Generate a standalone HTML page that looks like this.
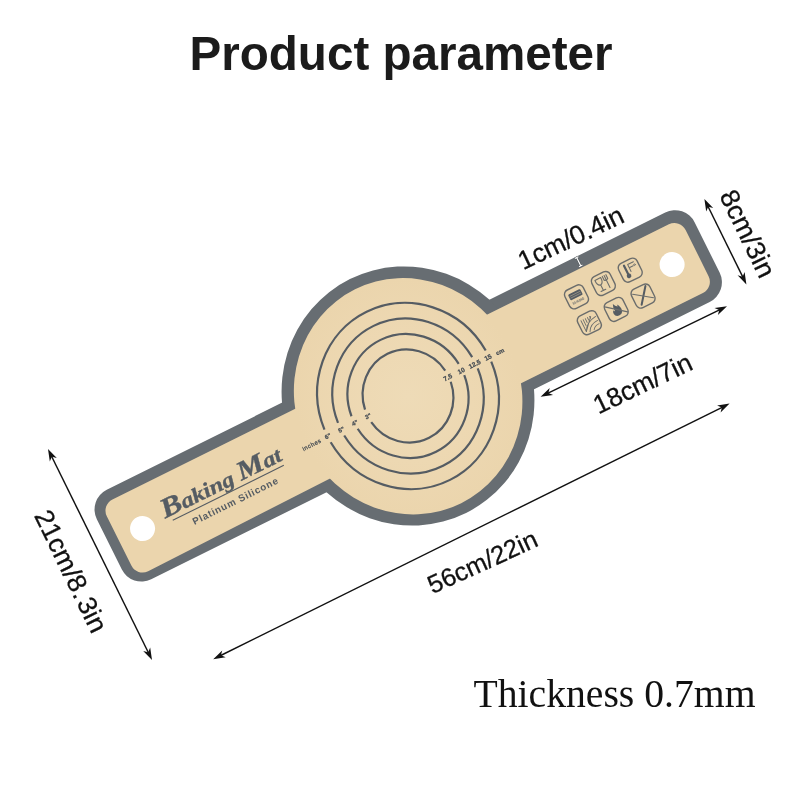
<!DOCTYPE html>
<html lang="en"><head><meta charset="utf-8"><title>Product parameter</title>
<style>
html,body{margin:0;padding:0;background:#fff;}
body{width:800px;height:800px;overflow:hidden;position:relative;font-family:"Liberation Sans",Arial,sans-serif;}
svg{position:absolute;left:0;top:0;display:block}
text{filter:grayscale(0)}
.title{font-family:"Liberation Sans",Arial,sans-serif;font-weight:700;font-size:48px;fill:#1b1b1b}
.dim{font-family:"Liberation Sans",Arial,sans-serif;fill:#111;stroke:#111;stroke-width:0.3px}
.thick{font-family:"Liberation Serif","Times New Roman",serif;font-size:40px;fill:#111}
.tiny{font-family:"Liberation Sans",Arial,sans-serif;font-weight:700;fill:#464d54;stroke:#464d54;stroke-width:0.25px}
.script{font-family:"Liberation Serif","Times New Roman",serif;font-style:italic;font-weight:700;fill:#555c63}
</style></head><body>
<svg width="800" height="800" viewBox="0 0 800 800">
<defs>
<radialGradient id="tang" cx="0.5" cy="0.5" r="0.5">
<stop offset="0" stop-color="#eedbb7"/><stop offset="0.55" stop-color="#edd8b2"/><stop offset="1" stop-color="#ebd5ad"/>
</radialGradient>
</defs>
<rect width="800" height="800" fill="#fff"/>
<text class="title" x="401" y="69.5" text-anchor="middle" textLength="423" lengthAdjust="spacingAndGlyphs">Product parameter</text>

<g transform="translate(408.0,396.0) rotate(-26.4)">
<rect x="-333.5" y="-50.0" width="667.5" height="100.0" rx="22" fill="#676d72"/>
<ellipse rx="125.38" ry="130.6" fill="#676d72"/>
<path d="M-20,-38.8 H-310.7 A12.5,12.5 0 0 0 -323.2,-26.299999999999997 V28.9 A12.5,12.5 0 0 0 -310.7,41.4 L-20,38.3 Z" fill="#ebd5ad"/>
<rect x="-20" y="-37.8" width="342.5" height="76.6" rx="12.5" fill="#ebd5ad"/>
<ellipse cx="0" cy="0.3" rx="112.98" ry="119.39999999999999" fill="url(#tang)"/>
<circle cx="295" cy="-0.3" r="12.5" fill="#fff"/>
<circle cx="-296.7" cy="0.7" r="12.5" fill="#fff"/>
<path d="M44.62,6.23 A45.02,46.9 0 0 1 -44.52,6.97 M-44.52,-6.97 A45.02,46.9 0 0 1 44.62,-6.23" fill="none" stroke="#555c63" stroke-width="2.2"/>
<path d="M59.70,6.24 A60.00,62.5 0 0 1 -59.62,6.99 M-59.62,-6.99 A60.00,62.5 0 0 1 59.70,-6.24" fill="none" stroke="#555c63" stroke-width="2.2"/>
<path d="M74.74,6.24 A74.98,78.1 0 0 1 -74.68,6.99 M-74.68,-6.99 A74.98,78.1 0 0 1 74.74,-6.24" fill="none" stroke="#555c63" stroke-width="2.2"/>
<path d="M89.85,6.25 A90.05,93.8 0 0 1 -89.80,6.99 M-89.80,-6.99 A90.05,93.8 0 0 1 89.85,-6.25" fill="none" stroke="#555c63" stroke-width="2.2"/>
<text class="tiny" font-size="6.5" x="43.8" y="3.3" text-anchor="middle">7.5</text>
<text class="tiny" font-size="6.5" x="58.8" y="3.3" text-anchor="middle">10</text>
<text class="tiny" font-size="6.5" x="73.8" y="3.3" text-anchor="middle">12.5</text>
<text class="tiny" font-size="6.5" x="88.8" y="3.3" text-anchor="middle">15</text>
<text class="tiny" font-size="6" x="102" y="3.2" text-anchor="middle">cm</text>
<text class="tiny" font-size="6" x="-44.7" y="2.6" text-anchor="middle">3"</text>
<text class="tiny" font-size="6" x="-59.7" y="2.6" text-anchor="middle">4"</text>
<text class="tiny" font-size="6" x="-74.7" y="2.6" text-anchor="middle">5"</text>
<text class="tiny" font-size="6" x="-89.7" y="2.6" text-anchor="middle">6"</text>
<text class="tiny" font-size="6" x="-108" y="3.0" text-anchor="middle" textLength="20" style="font-weight:400">inches</text>
<g transform="translate(195,-13.9)" fill="none" stroke="#6b6d6c" stroke-width="1.4" stroke-linecap="round" stroke-linejoin="round">
<rect x="-10.25" y="-10.25" width="20.5" height="20.5" rx="5"/>
<rect x="-6.8" y="-5.6" width="13.6" height="6.4" rx="1.2" fill="#555c63" stroke="none"/>
<path d="M-5.5,-3.4 H5.5 M-5.5,-1.4 H5.5" stroke="#ebd5ad" stroke-width="0.6" opacity="0.6"/>
<text x="0" y="5.6" text-anchor="middle" font-size="3.4" font-weight="700" font-family="Liberation Sans,Arial,sans-serif" fill="#555c63" stroke="none" textLength="12.5" lengthAdjust="spacingAndGlyphs">SILICONE</text>
</g>
<g transform="translate(225,-13.9)" fill="none" stroke="#6b6d6c" stroke-width="1.4" stroke-linecap="round" stroke-linejoin="round">
<rect x="-10.25" y="-10.25" width="20.5" height="20.5" rx="5"/>
<path d="M-6.2,-6.5 Q-6.5,-0.5 -3,0.2 Q0.5,-0.5 0.2,-6.5 Z M-3,0.2 V5.8 M-5.6,6.2 H-0.4" stroke-width="1.1"/>
<path d="M4.2,-6.8 V6.5 M2.2,-6.8 V-2.6 Q4.2,-0.8 6.2,-2.6 V-6.8" stroke-width="1.1"/>
</g>
<g transform="translate(255,-13.9)" fill="none" stroke="#6b6d6c" stroke-width="1.4" stroke-linecap="round" stroke-linejoin="round">
<rect x="-10.25" y="-10.25" width="20.5" height="20.5" rx="5"/>
<path d="M-3.6,-6.8 V3.4" stroke="#555c63" stroke-width="2.2"/>
<circle cx="-3.6" cy="4.6" r="2.3" fill="#555c63" stroke="none"/>
<path d="M0.2,-6.2 H6.6 M0.2,-6.2 V1.5 M0.2,-2.6 H4.6" stroke-width="1"/>
<circle cx="6.2" cy="-3" r="0.9" stroke-width="0.7"/>
</g>
<g transform="translate(195,15.0)" fill="none" stroke="#6b6d6c" stroke-width="1.4" stroke-linecap="round" stroke-linejoin="round">
<rect x="-10.25" y="-10.25" width="20.5" height="20.5" rx="5"/>
<path d="M-6.6,-5.5 V6.6 M-4.2,-5.5 V1.2 M-1.8,-5.5 V-1.2 M0.6,-5.5 V-2.6 M3,-5.5 V-3.6" stroke-width="0.9"/>
<path d="M-6.6,6.6 Q-3,-1.5 8.4,-2.8 M-3.4,8.4 Q-0.5,1.8 8.4,1.6 M1.2,8.4 Q3.4,5 8.4,5.2 M-6.6,6.6 L4,-5" stroke-width="0.9"/>
</g>
<g transform="translate(225,15.0)" fill="none" stroke="#6b6d6c" stroke-width="1.4" stroke-linecap="round" stroke-linejoin="round">
<rect x="-10.25" y="-10.25" width="20.5" height="20.5" rx="5"/>
<path d="M-0.6,-6.4 Q0.4,-3.6 2.6,-2 Q3,-3.2 2.8,-4.2 Q5.6,-0.6 4.8,3 Q4,6.6 0.4,6.8 Q-3.8,6.6 -4.2,3 Q-4.4,1 -3,-0.6 Q-2.8,0.8 -1.8,1.2 Q-2.4,-3 -0.6,-6.4 Z" fill="#555c63" stroke="none"/>
<path d="M-9.2,-7.4 L9.2,7.4" stroke-width="1.3"/>
</g>
<g transform="translate(255,15.0)" fill="none" stroke="#6b6d6c" stroke-width="1.4" stroke-linecap="round" stroke-linejoin="round">
<rect x="-10.25" y="-10.25" width="20.5" height="20.5" rx="5"/>
<path d="M6.6,-8 L-5.2,7.2" stroke="#555c63" stroke-width="2"/>
<path d="M-8.6,-6.2 L8.6,6.2" stroke-width="1.1"/>
</g>
<text class="script" x="-272" y="1.8" textLength="132" lengthAdjust="spacingAndGlyphs" stroke="#555c63" stroke-width="0.35"><tspan font-size="27.5">B</tspan><tspan font-size="21">aking </tspan><tspan font-size="26.5">M</tspan><tspan font-size="21">at</tspan></text>
<line x1="-266" y1="6.8" x2="-142" y2="6.8" stroke="#555c63" stroke-width="1.1"/>
<text class="tiny" font-size="9.8" x="-248.5" y="20.6" textLength="94" lengthAdjust="spacing" style="stroke:none;fill:#555c63">Platinum Silicone</text>
</g>
<line x1="707.58" y1="205.46" x2="743.22" y2="277.94" stroke="#111" stroke-width="1.45"/>
<polygon points="746.40,284.40 737.60,275.35 742.59,276.65 744.60,271.91" fill="#111"/>
<polygon points="704.40,199.00 706.20,211.49 708.21,206.75 713.20,208.05" fill="#111"/>
<line x1="547.08" y1="393.56" x2="720.52" y2="309.34" stroke="#111" stroke-width="1.45"/>
<polygon points="727.00,306.20 717.91,314.95 719.23,309.97 714.50,307.93" fill="#111"/>
<polygon points="540.60,396.70 553.10,394.97 548.37,392.93 549.69,387.95" fill="#111"/>
<line x1="219.65" y1="656.01" x2="723.15" y2="406.79" stroke="#111" stroke-width="1.45"/>
<polygon points="729.60,403.60 720.58,412.42 721.86,407.43 717.12,405.43" fill="#111"/>
<polygon points="213.20,659.20 225.68,657.37 220.94,655.37 222.22,650.38" fill="#111"/>
<line x1="51.18" y1="455.46" x2="148.82" y2="653.54" stroke="#111" stroke-width="1.45"/>
<polygon points="152.00,660.00 143.20,650.96 148.18,652.25 150.19,647.51" fill="#111"/>
<polygon points="48.00,449.00 49.81,461.49 51.82,456.75 56.80,458.04" fill="#111"/>
<g transform="translate(578.7,261.7) rotate(-26.4)" fill="none"><path d="M0,-4.6 V4.6 M-1.9,-4.6 H1.9 M-1.9,4.6 H1.9" stroke="#3a3f44" stroke-width="2.2" opacity="0.55"/><path d="M0,-4.6 V4.6 M-1.9,-4.6 H1.9 M-1.9,4.6 H1.9" stroke="#fff" stroke-width="1.2"/></g>
<text class="dim" transform="translate(523.3,270.3) rotate(-25.4)"  font-size="26.2">1cm/0.4in</text>
<text class="dim" transform="translate(719,195.5) rotate(64)"  font-size="26.8">8cm/3in</text>
<text class="dim" transform="translate(598.5,414.5) rotate(-25.5)"  font-size="26.2">18cm/7in</text>
<text class="dim" transform="translate(432.5,594.2) rotate(-24.5)"  font-size="25.5">56cm/22in</text>
<text class="dim" transform="translate(33.8,515.5) rotate(64)"  font-size="26.6">21cm/8.<tspan dx="2.5">3in</tspan></text>
<text class="thick" x="473.5" y="706.8" textLength="282" lengthAdjust="spacingAndGlyphs">Thickness 0.7mm</text>
</svg></body></html>
